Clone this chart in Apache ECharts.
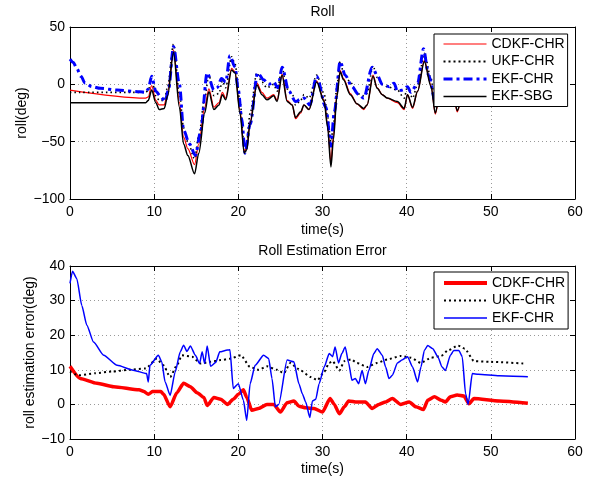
<!DOCTYPE html>
<html><head><meta charset="utf-8">
<script src="https://cdn.jsdelivr.net/npm/echarts@6/dist/echarts.min.js"></script>
<style>html,body{margin:0;padding:0;background:#fff}#c{width:592px;height:477px}</style>
</head><body><div id="c"></div>
<script>
// ---------- Top plot: Roll (deg) ----------
const tTop = [0, 9, 9.3, 9.7, 10.2, 10.6, 11.2, 11.6, 12.3, 13.0, 13.5, 14.0, 14.8, 15.3, 16.0, 16.5, 17.1, 17.7, 18.1, 18.5, 19.2, 19.6, 20.2, 20.7, 21.0, 21.4, 22.2, 22.8, 23.4, 24.2, 24.6, 25.2, 25.8, 26.4, 26.8, 27.4, 27.8, 28.4, 29.3, 30.2, 30.6, 31.0, 31.3, 31.7, 32.1, 32.5, 33.3, 34.1, 34.9, 35.3, 36.0, 36.5, 37.1, 37.7, 38.9, 39.7, 40.1, 40.7, 41.3, 42.1, 42.9, 43.4, 44.0, 45.0, 45.6, 46.0, 46.5];
const rollSBG  = [-16, -16, -14, -5, -16, -22, -21, -10, 28, -20, -52, -62, -78, -60, -25, -6.5, -22, -18, -9, -13.5, 12.5, 10, -25, -60, -57, -34, -0.6, -9, -13.5, -10, -15, 8, -15, -18, -29, -24, -18, -22, 2, -15, -37, -72, -48, -11, 11, 4, -9, -17, -21, -18, 7, -3.5, -9, -12, -15, -21, -9, -20, -6, 20, -2, -25, -5, -5, -10, -23, -10];
const rollCDKF = [-5, -12, -11, -1, -14, -18, -18, -6, 30, -16, -46, -56, -70, -52, -20, -4, -20, -16, -7, -12, 14, 11, -23, -58, -55, -32, 1, -7, -12, -9, -14, 9, -14, -18, -30, -25, -18, -22, 3, -14, -35, -68, -45, -9, 12, 5, -8, -17, -22, -18, 8, -3, -9, -12, -16, -22, -9, -21, -6, 21, -1, -26, -5, -5, -10, -24, -10];
const rollUKF  = [-7, -7, -5, 5, -10, -14, -14, -2, 35, -8, -38, -50, -65, -45, -12, 8, -10, -8, 3, -3, 24, 18, -15, -55, -50, -25, 10, 2, -3, 0, -6, 14, -4, -8, -18, -14, -9, -12, 8, -8, -28, -50, -35, -2, 20, 10, 2, -8, -10, -8, 16, 6, 0, -2, -5, -12, -2, -12, 0, 27, 5, -20, -5, -5, -10, -20, -10];
const tEKFTop  = [0, 0.4, 0.8, 1.3, 1.8, 2.6, 3.6, 5.6, 8.3, 9, 9.3, 9.7, 10.2, 10.8, 11.3, 11.7, 12.3, 13.0, 13.5, 14.2, 14.9, 15.5, 16.3, 17.1, 17.5, 18.0, 18.5, 19.0, 19.6, 20.0, 20.4, 20.8, 21.4, 22.3, 23.0, 23.6, 24.2, 24.7, 25.2, 26.0, 26.8, 27.4, 27.8, 28.5, 29.3, 30.4, 31.0, 31.4, 32.1, 32.7, 33.5, 34.3, 34.9, 35.9, 36.5, 37.1, 37.9, 38.5, 38.9, 39.5, 40.1, 40.5, 41.3, 42.0, 42.6, 43.4, 44.0, 45.0, 45.6, 46.0, 46.5];
const rollEKF  = [22, 19, 14, 7, 1, -2, -3.5, -5, -6.5, -7, -4, 7, -6, -11, -15, -5, 33, 0, -40, -52, -62, -42, 10, -5, -3, 5, 2, 25, 15, -5, -30, -60, -35, 10, 4, 0, 2, -3, 15, -6, -15, -13, -12, -18, 7, -20, -54, -24, 20, 8, -2, -9, -12, 15, 8, 0, -2, 1, -6, -5, -2, -7, 1, 31, 8, -15, -5, -5, -10, -18, -10];

// ---------- Bottom plot: Roll estimation error (deg) ----------
const tErrCDKF = [0, 1.2, 3.2, 5.2, 8.2, 8.8, 9.3, 9.8, 10.8, 11.1, 11.9, 12.7, 13.5, 14.3, 15.1, 15.9, 16.3, 17.1, 17.9, 18.7, 19.4, 20.0, 20.6, 21.0, 21.6, 22.4, 23.4, 24.2, 25.0, 25.8, 26.6, 27.2, 28.0, 29.0, 30.0, 30.9, 31.4, 32.0, 32.6, 33.1, 34.1, 35.1, 35.9, 36.7, 37.5, 38.3, 39.3, 40.3, 41.1, 42.0, 42.5, 43.3, 44.1, 44.6, 45.2, 46.0, 46.8, 47.4, 48.0, 51.0, 54.4];
const errCDKF  = [11, 7.5, 6.1, 5.1, 4.2, 3.7, 2.9, 3.7, 3.7, 3.0, -0.7, 3.4, 6.1, 5.1, 3.4, 2, -0.3, 2, 1.5, 0, 1.5, 2.9, 4.2, 2, -1.7, -1.2, 0, 0, -2.2, 0.5, 1, -0.5, -1, -1.2, -2.2, 1.7, 0, -2.7, -0.7, 1, 0.7, 0.7, -1.2, 0, 0.7, 1.7, 0, 0.7, -0.7, -1.5, 1.2, 2.2, 1.2, 0.7, 2.2, 2.7, 2.4, 0.2, 1.7, 1.0, 0.3];
const tErrUKF  = [0, 1, 3, 5, 7, 9, 10.3, 11.1, 11.9, 12.7, 13.3, 14.5, 15.5, 16.7, 17.9, 19.0, 20.3, 21.4, 22.4, 23.4, 24.6, 25.4, 26.2, 27.0, 27.4, 28.6, 29.4, 30.2, 30.8, 31.2, 32.0, 32.6, 33.4, 34.1, 35.3, 36.5, 37.7, 39.3, 40.5, 41.7, 42.9, 44.1, 44.9, 46.1, 46.9, 48.0, 50.0, 54.0];
const errUKF   = [9.5, 8.4, 9, 9.5, 10, 10.4, 13.2, 11.3, 7.9, 11.3, 14.2, 13.8, 11.8, 12.3, 12.8, 13.2, 14.2, 10.8, 10, 11, 10, 9, 12, 10.4, 9.8, 7.9, 7, 9.4, 12, 12.5, 9.8, 12.5, 13, 12, 10.8, 12, 13, 14, 13.5, 12, 13.5, 14, 15.6, 17, 16.1, 12.5, 12.3, 11.8];
const tErrEKF  = [0, 0.3, 0.8, 1.4, 2.0, 2.8, 4.0, 5.6, 7.5, 9.1, 9.3, 9.5, 10.5, 10.9, 11.3, 11.9, 12.5, 13.1, 13.5, 13.9, 14.3, 14.9, 15.4, 15.7, 16.0, 16.3, 16.7, 17.3, 17.8, 18.7, 19.0, 19.4, 20.0, 20.6, 21.0, 21.4, 22.0, 23.0, 23.6, 24.0, 24.4, 24.8, 25.8, 26.6, 27.2, 27.6, 28.0, 28.5, 28.8, 29.2, 29.6, 30.2, 30.8, 31.2, 31.5, 31.9, 32.3, 32.7, 33.1, 33.5, 33.9, 34.3, 34.7, 35.1, 35.5, 36.1, 36.5, 37.1, 37.5, 37.9, 38.3, 38.9, 39.5, 40.1, 40.7, 41.3, 41.7, 42.1, 42.5, 43.1, 43.7, 44.2, 44.6, 45.2, 45.6, 46.2, 46.6, 47.0, 47.3, 47.8, 48.5, 51.0, 54.4];
const errEKF   = [35, 38.5, 36.4, 28.6, 22.9, 18, 14.2, 11.3, 9.9, 8.9, 6.5, 11.3, 14.2, 12.3, 6.5, 2.6, 9.4, 15.2, 17.1, 15.3, 16.9, 14.2, 11.8, 15.2, 11.8, 16.9, 11, 12.1, 15.2, 15.7, 15.8, 4.6, 6, 1.2, -4.6, 6, 11.3, 14.2, 13.3, 7.5, -0.7, 0, 12.8, 12.3, 6, 3.1, 0.7, -3.8, 1, 1.5, 6, 10.8, 14.7, 13.8, 16.6, 12, 14.7, 16.6, 12, 7, 7.5, 6, 9.8, 6, 9.8, 14.7, 16.1, 14.2, 10.8, 7.5, 8.4, 12, 12.9, 13.8, 10.8, 6.5, 10.8, 15.6, 17, 16.1, 13.8, 10.8, 9.8, 14.2, 15.6, 15.6, 13.8, 3.1, 0, 8.9, 8.7, 8.3, 8.0];

const xTicks = [0, 10, 20, 30, 40, 50, 60];
const names = ['CDKF-CHR', 'UKF-CHR', 'EKF-CHR', 'EKF-SBG'];

const zip = (t, v) => t.map((x, i) => [x, v[i]]);
const FONT = "'Liberation Sans', Arial, Helvetica, sans-serif";
const minus = v => String(v).replace('-', '\u2212');

function mainX(gi, gap) {
  return {
    type: 'value', gridIndex: gi, min: xTicks[0], max: xTicks[xTicks.length - 1], interval: 10,
    name: 'time(s)', nameLocation: 'middle', nameGap: gap, nameMoveOverlap: false,
    nameTextStyle: { fontSize: 14, color: '#000', fontFamily: FONT },
    axisLine: { show: true, onZero: false, lineStyle: { color: '#000', width: 1 } },
    axisTick: { show: true, inside: true, length: 5, lineStyle: { color: '#000' } },
    axisLabel: { fontSize: 14, color: '#000', fontFamily: FONT, margin: 6, formatter: minus },
    splitLine: { show: true, lineStyle: { color: '#999', type: [1, 3], width: 1 } }
  };
}
function boxX(gi) {
  return {
    type: 'value', gridIndex: gi, position: 'top', min: 0, max: 60, interval: 10,
    axisLine: { show: true, onZero: false, lineStyle: { color: '#000', width: 1 } },
    axisTick: { show: true, inside: true, length: 5, lineStyle: { color: '#000' } },
    axisLabel: { show: false }, splitLine: { show: false }
  };
}
function mainY(gi, min, max, step, name, gap) {
  return {
    type: 'value', gridIndex: gi, min: min, max: max, interval: step,
    name: name, nameLocation: 'middle', nameGap: gap, nameMoveOverlap: false,
    nameTextStyle: { fontSize: 14, color: '#000', fontFamily: FONT },
    axisLine: { show: true, onZero: false, lineStyle: { color: '#000', width: 1 } },
    axisTick: { show: true, inside: true, length: 5, lineStyle: { color: '#000' } },
    axisLabel: { fontSize: 14, color: '#000', fontFamily: FONT, margin: 5, formatter: minus },
    splitLine: { show: true, lineStyle: { color: '#999', type: [1, 3], width: 1 } }
  };
}
function boxY(gi, min, max, step) {
  return {
    type: 'value', gridIndex: gi, position: 'right', min: min, max: max, interval: step,
    axisLine: { show: true, onZero: false, lineStyle: { color: '#000', width: 1 } },
    axisTick: { show: true, inside: true, length: 5, lineStyle: { color: '#000' } },
    axisLabel: { show: false }, splitLine: { show: false }
  };
}
function line(name, data, xi, yi, color, width, type, z, smooth) {
  return {
    type: 'line', name: name, xAxisIndex: xi, yAxisIndex: yi, data: data,
    symbol: 'none', smooth: smooth, smoothMonotone: 'x', z: z,
    lineStyle: { color: color, width: width, type: type },
    itemStyle: { color: color }
  };
}
const noDot = { color: 'rgba(0,0,0,0)', borderWidth: 0, opacity: 0 };
const legendBase = {
  orient: 'vertical', left: 434, itemWidth: 43, itemHeight: 14, itemGap: 3.5,
  padding: [3, 3, 3, 8], backgroundColor: '#fff', borderColor: '#000', borderWidth: 1, borderRadius: 0,
  textStyle: { fontSize: 14, color: '#000', fontFamily: FONT }, selectedMode: false, z: 10
};

const chart = echarts.init(document.getElementById('c'), null, { renderer: 'canvas' });
chart.setOption({
  animation: false,
  backgroundColor: '#fff',
  graphic: [
    { type: 'text', x: 322.5, y: 12, style: { text: 'Roll', fontSize: 14, fill: '#000', fontFamily: FONT, align: 'center', verticalAlign: 'middle' } },
    { type: 'text', x: 322.5, y: 251, style: { text: 'Roll Estimation Error', fontSize: 14, fill: '#000', fontFamily: FONT, align: 'center', verticalAlign: 'middle' } }
  ],
  grid: [
    { left: 70, top: 27, width: 505, height: 172 },
    { left: 70, top: 266, width: 505, height: 173 }
  ],
  xAxis: [mainX(0, 24), mainX(1, 23), boxX(0), boxX(1)],
  yAxis: [
    mainY(0, -100, 50, 50, 'roll(deg)', 41),
    mainY(1, -10, 40, 10, 'roll estimation error(deg)', 33),
    boxY(0, -100, 50, 50),
    boxY(1, -10, 40, 10)
  ],
  legend: [
    Object.assign({}, legendBase, {
      top: 34,
      data: [
        { name: names[0], itemStyle: noDot, lineStyle: { color: '#ff0000', width: 1.2, type: 'solid' } },
        { name: names[1], itemStyle: noDot, lineStyle: { color: '#000', width: 2, type: [2, 3] } },
        { name: names[2], itemStyle: noDot, lineStyle: { color: '#0000ff', width: 3, type: [9, 4, 3, 4] } },
        { name: names[3], itemStyle: noDot, lineStyle: { color: '#000', width: 1.5, type: 'solid' } }
      ]
    }),
    Object.assign({}, legendBase, {
      top: 272, padding: [4, 3, 4, 8],
      data: [
        { name: names[0], itemStyle: noDot, lineStyle: { color: '#ff0000', width: 4, type: 'solid' } },
        { name: names[1], itemStyle: noDot, lineStyle: { color: '#000', width: 2, type: [2, 3] } },
        { name: names[2], itemStyle: noDot, lineStyle: { color: '#0000ff', width: 1.5, type: 'solid' } }
      ]
    })
  ],
  series: [
    line(names[0], zip(tTop, rollCDKF), 0, 0, '#ff0000', 1.2, 'solid', 2, 0.3),
    line(names[1], zip(tTop, rollUKF), 0, 0, '#000000', 1.6, [1.5, 3], 3, 0.3),
    line(names[2], zip(tEKFTop, rollEKF), 0, 0, '#0000ff', 3, [9, 4, 3, 4], 4, 0.3),
    line(names[3], zip(tTop, rollSBG), 0, 0, '#000000', 1.5, 'solid', 5, 0.3),
    line(names[0], zip(tErrCDKF, errCDKF), 1, 1, '#ff0000', 3.5, 'solid', 2, 0.2),
    line(names[1], zip(tErrUKF, errUKF), 1, 1, '#000000', 2, [2, 3], 3, 0.2),
    line(names[2], zip(tErrEKF, errEKF), 1, 1, '#0000ff', 1.5, 'solid', 4, 0.2)
  ]
});
</script></body></html>
